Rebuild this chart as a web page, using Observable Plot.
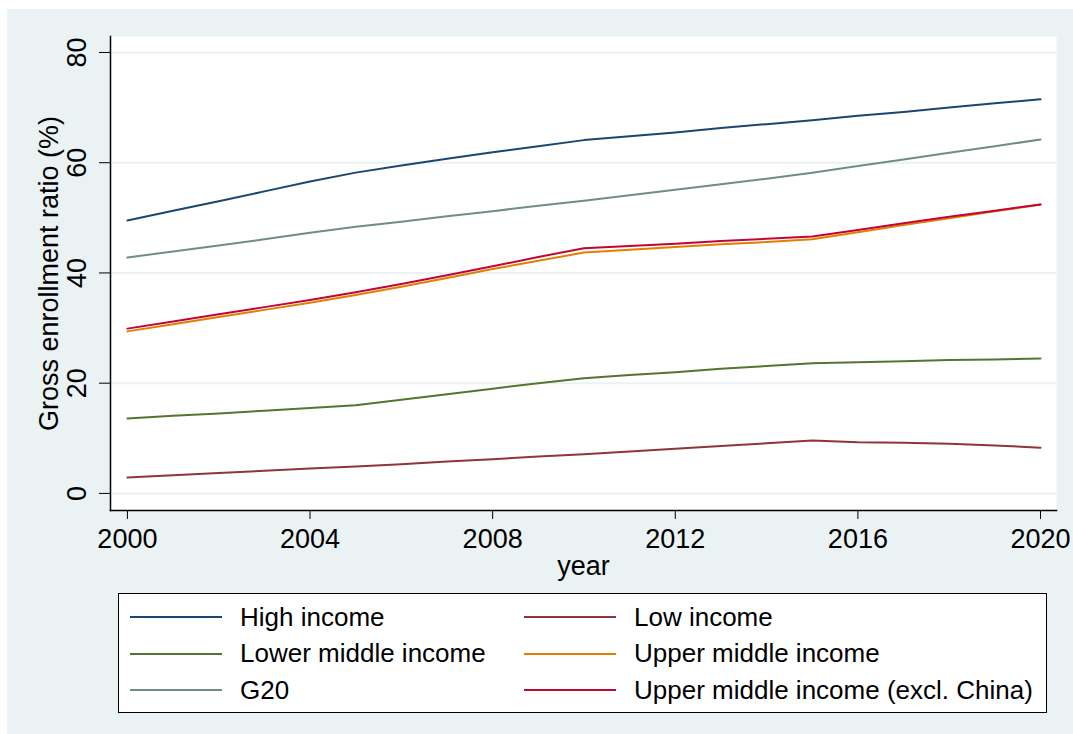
<!DOCTYPE html>
<html><head><meta charset="utf-8">
<script src="https://cdn.jsdelivr.net/npm/d3@7"></script>
<script src="https://cdn.jsdelivr.net/npm/@observablehq/plot@0.6"></script>
<style>
body{margin:0;background:#fff;font-family:"Liberation Sans",Arial,sans-serif;}
#bg{position:absolute;left:7px;top:9px;width:1066px;height:725px;background:#eaf2f3;}
#chart{position:absolute;left:0;top:0;}
#legend{position:absolute;left:118px;top:593px;width:929px;height:120px;border:1.5px solid #000;background:#fff;box-sizing:border-box;}
.item{position:absolute;height:30px;display:flex;align-items:center;font-size:26px;color:#000;white-space:nowrap;}
.item .sw{display:inline-block;width:92px;height:2px;margin-right:18px;}
</style></head>
<body>
<div id="bg"></div>
<div id="chart"></div>
<div id="legend"></div>
<script>
const years = [2000,2001,2002,2003,2004,2005,2006,2007,2008,2009,2010,2011,2012,2013,2014,2015,2016,2017,2018,2019,2020];
const seriesNames = ["High income","Low income","Lower middle income","Upper middle income","G20","Upper middle income (excl. China)"];
const seriesColors = ["#1a476f","#90353b","#55752f","#e37e00","#6e8e84","#c10534"];
const highIncome = [49.5,51.3,53.0,54.8,56.6,58.2,59.5,60.7,61.9,63.0,64.1,64.8,65.5,66.3,67.0,67.7,68.5,69.2,70.0,70.8,71.5];
const lowIncome = [2.9,3.3,3.7,4.1,4.5,4.9,5.3,5.8,6.2,6.7,7.1,7.6,8.1,8.6,9.1,9.6,9.3,9.2,9.0,8.7,8.3];
const lowerMiddle = [13.6,14.1,14.5,15.0,15.5,16.0,17.0,18.0,19.0,20.0,20.9,21.5,22.0,22.6,23.1,23.6,23.8,24.0,24.2,24.3,24.5];
const upperMiddle = [29.4,30.7,32.0,33.3,34.6,36.0,37.5,39.1,40.7,42.2,43.7,44.2,44.7,45.2,45.6,46.1,47.4,48.7,49.9,51.2,52.4];
const g20 = [42.8,43.9,45.0,46.1,47.3,48.4,49.3,50.3,51.2,52.2,53.1,54.1,55.1,56.1,57.1,58.2,59.4,60.6,61.8,63.0,64.2];
const upperMiddleExChina = [29.9,31.2,32.5,33.8,35.1,36.5,38.0,39.6,41.2,42.9,44.5,44.9,45.3,45.8,46.2,46.6,47.8,49.0,50.2,51.3,52.4];
const xTicks = [2000,2004,2008,2012,2016,2020];
const yTicks = [0,20,40,60,80];

const seriesValues = [highIncome, lowIncome, lowerMiddle, upperMiddle, g20, upperMiddleExChina];
const data = [];
seriesNames.forEach((s, i) => years.forEach((yr, j) => data.push({series: s, year: yr, value: seriesValues[i][j]})));

const chart = Plot.plot({
  width: 1073, height: 590,
  marginLeft: 110, marginRight: 17, marginTop: 36, marginBottom: 80,
  style: {background: "transparent", fontFamily: "'Liberation Sans', Arial, sans-serif", fontSize: "27px", color: "#000", overflow: "visible"},
  x: {domain: [1999.63, 2020.35]},
  y: {domain: [-3.1, 82.9]},
  color: {domain: seriesNames, range: seriesColors},
  marks: [
    Plot.frame({fill: "white", stroke: null}),
    Plot.ruleY(yTicks, {stroke: "#eaf2f3", strokeWidth: 2}),
    Plot.line(data, {x: "year", y: "value", z: "series", stroke: "series", strokeWidth: 2}),
    Plot.frame({anchor: "left", stroke: "#000", strokeWidth: 1.5}),
    Plot.frame({anchor: "bottom", stroke: "#000", strokeWidth: 1.5}),
    Plot.axisX({ticks: xTicks, tickFormat: d => String(d), tickSize: 9, tickPadding: 9, label: "year", labelAnchor: "center", labelArrow: "none", labelOffset: 64, fontSize: 27}),
    Plot.axisY({ticks: yTicks, tickSize: 11, tickPadding: 14, tickRotate: -90, label: "Gross enrollment ratio (%)", labelAnchor: "center", labelArrow: "none", labelOffset: 72})
  ]
});
document.getElementById("chart").appendChild(chart);

const leg = document.getElementById("legend");
seriesNames.forEach((s, i) => {
  const d = document.createElement("div");
  d.className = "item";
  d.style.left = (i % 2 === 0 ? 11 : 405) + "px";
  d.style.top = (8 + Math.floor(i / 2) * 36.5) + "px";
  const sw = document.createElement("span");
  sw.className = "sw";
  sw.style.background = seriesColors[i];
  d.appendChild(sw);
  d.appendChild(document.createTextNode(s));
  leg.appendChild(d);
});
</script>
</body></html>
